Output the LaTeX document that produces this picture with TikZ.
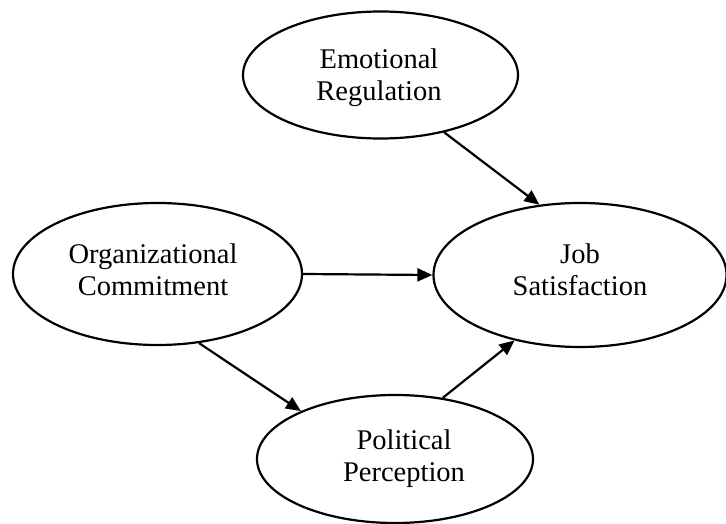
\documentclass[tikz,border=0pt]{standalone}
\usepackage{fontspec}
\setmainfont{Liberation Serif}
\usetikzlibrary{shapes.geometric,arrows.meta}
\begin{document}
\begin{tikzpicture}[x=1pt,y=-1pt,
  ell/.style={draw=black, line width=2.2pt, ellipse, inner sep=0pt},
  txt/.style={align=center, inner sep=0pt, font=\fontsize{28.5}{32}\selectfont},
  arr/.style={line width=2.2pt, -{Triangle[length=15pt,width=13pt]}}]
\useasboundingbox (0,0) rectangle (726,524);
% ellipses
\node[ell, minimum width=275pt, minimum height=127pt] (er) at (380.5,75) {};
\node[ell, minimum width=293pt, minimum height=144pt] (js) at (580,275) {};
\node[ell, minimum width=289pt, minimum height=142pt] (oc) at (157.5,274) {};
\node[ell, minimum width=276pt, minimum height=128pt] (pp) at (395,459) {};
% texts
\node[txt] (ert) at (379,78) {Emotional\\Regulation};
\node[txt] (jst) at (580,270) {Job\\Satisfaction};
\node[txt] (oct) at (153,270) {Organizational\\Commitment};
\node[txt] (ppt) at (404,459) {Political\\Perception};
% arrows
\draw[arr] (er.-42.2) -- (js.120.3);
\draw[arr] (oc.east) -- (js.west);
\draw[arr] (oc.-59.6) -- (pp.153.2);
\draw[arr] (pp.52.4) -- (js.225);
\end{tikzpicture}
\end{document}
